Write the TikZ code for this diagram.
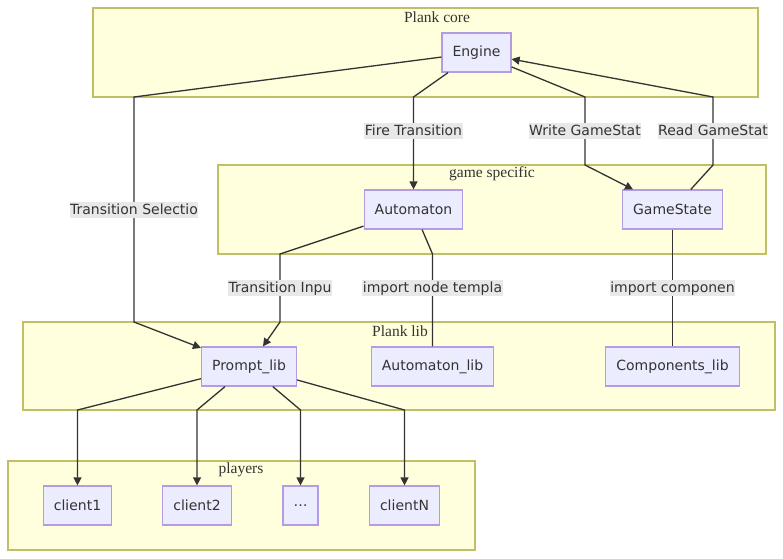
\documentclass[tikz,border=0pt]{standalone}
\usepackage{fontspec}
\setmainfont{DejaVu Sans}
\newfontfamily\titlefont{Liberation Serif}
\usetikzlibrary{arrows.meta}
\definecolor{clfill}{HTML}{FFFFDE}
\definecolor{cldraw}{HTML}{AAAA33}
\definecolor{ndfill}{HTML}{ECECFF}
\definecolor{nddraw}{HTML}{9370DB}
\definecolor{edgec}{HTML}{333333}
\definecolor{lblfill}{HTML}{E8E8E8}
\tikzset{
  box/.style={draw=nddraw!70,fill=ndfill,line width=1.2pt,minimum height=39pt,inner xsep=10.5pt,text=edgec,font=\fontsize{14}{17}\selectfont},
  cluster/.style={draw=cldraw!75,fill=clfill,line width=1.3pt},
  ctitle/.style={text=edgec,inner sep=0pt,font=\titlefont\fontsize{15.5}{18}\selectfont},
  lbl/.style={fill=lblfill,text=edgec,inner xsep=0.5pt,inner ysep=0pt,text height=13pt,text depth=3.8pt,font=\fontsize{14}{17}\selectfont},
  edge/.style={draw=edgec,line width=1.3pt},
  arr/.style={edge,-{Triangle[length=8pt,width=8pt]}}
}
\begin{document}
\begin{tikzpicture}[x=1pt,y=-1pt]
\useasboundingbox (0,0) rectangle (783,558);
\filldraw[cluster] (93,8) rectangle (758,97);\node[ctitle] (tcore) at (437,17){Plank core};
\filldraw[cluster] (218,165) rectangle (766,254);\node[ctitle] (tgame) at (492,174){game specific};
\filldraw[cluster] (23,322) rectangle (775,410);\node[ctitle] (tlib) at (400,331){Plank lib};
\filldraw[cluster] (8,461) rectangle (475,550);\node[ctitle] (tplay) at (241,470){players};
\node[box] (engine) at (476.5,52.5){Engine};
\node[box] (automaton) at (413.5,209.5){Automaton};
\node[box] (gamestate) at (672.5,209.5){GameState};
\node[box] (prompt) at (249,366.5){Prompt\_lib};
\node[box] (autolib) at (432.5,366.5){Automaton\_lib};
\node[box] (complib) at (672.5,366.5){Components\_lib};
\node[box] (client1) at (77.5,505.5){client1};
\node[box] (client2) at (197,505.5){client2};
\node[box] (clientd) at (300.5,505.5){…};
\node[box] (clientn) at (404.5,505.5){clientN};
\coordinate (sel1) at (134,97);\coordinate (sel2) at (134,322);
\coordinate (fire1) at (413.5,97);
\coordinate (wr1) at (585,97);\coordinate (wr2) at (585,165);
\coordinate (rd1) at (713,165);\coordinate (rd2) at (713,97);
\coordinate (inp1) at (280,254);\coordinate (inp2) at (280,322);
\coordinate (tpl1) at (432.5,254);
\coordinate (c1) at (77.5,410);\coordinate (c2) at (197,410);\coordinate (cd) at (300.5,410);\coordinate (cn) at (404.5,410);
\draw[arr] (engine)--(sel1)--(sel2)--(prompt);
\draw[arr] (engine)--(fire1)--(automaton);
\draw[arr] (engine)--(wr1)--(wr2)--(gamestate);
\draw[arr] (gamestate)--(rd1)--(rd2)--(engine);
\draw[arr] (automaton)--(inp1)--(inp2)--(prompt);
\draw[edge] (automaton)--(tpl1)--(autolib);
\draw[edge] (gamestate)--(complib);
\draw[arr] (prompt)--(c1)--(client1);\draw[arr] (prompt)--(c2)--(client2);
\draw[arr] (prompt)--(cd)--(clientd);\draw[arr] (prompt)--(cn)--(clientn);
\node[lbl] (lsel) at (134,210){Transition Selectio};
\node[lbl] (lfire) at (413.5,131){Fire Transition};
\node[lbl] (lwr) at (585,131){Write GameStat};
\node[lbl] (lrd) at (713,131){Read GameStat};
\node[lbl] (linp) at (280,288){Transition Inpu};
\node[lbl] (ltpl) at (432.5,288){import node templa};
\node[lbl] (lcomp) at (672.5,288){import componen};
\end{tikzpicture}
\end{document}
